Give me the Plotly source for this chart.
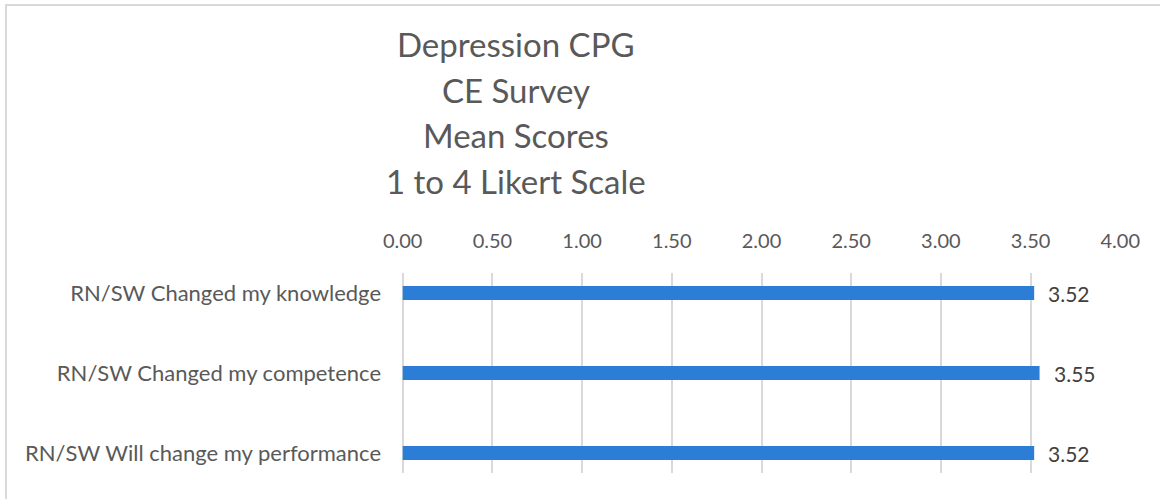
import plotly.graph_objects as go

# chart data
categories = [
    "RN/SW Changed my knowledge",
    "RN/SW Changed my competence",
    "RN/SW Will change my performance",
]
mean_scores = [3.52, 3.55, 3.52]
title_lines = ["Depression CPG", "CE Survey", "Mean Scores", "1 to 4 Likert Scale"]
x_ticks = [0, 0.5, 1.0, 1.5, 2.0, 2.5, 3.0, 3.5, 4.0]

FONT = "Lato, Carlito, Calibri, sans-serif"
GREY = "#595959"
BAR_BLUE = "#2B7DD5"
GRID = "#D9D9D9"

W, H = 1160, 499
L, R, T, B = 402, 39, 273, 26

fig = go.Figure()
fig.add_trace(go.Bar(
    x=mean_scores,
    y=categories,
    orientation="h",
    width=0.175,
    marker=dict(color=BAR_BLUE, line=dict(width=0)),
    hoverinfo="x+y",
    showlegend=False,
))

# value labels to the right of each bar
for cat, val in zip(categories, mean_scores):
    fig.add_annotation(
        x=val, y=cat, xref="x", yref="y",
        text=f"{val:.2f}",
        showarrow=False, xanchor="left", xshift=12,
        font=dict(family=FONT, size=21, color="#404040"),
    )

# title, one annotation per line so the spacing matches
plot_h = H - T - B
plot_w = W - L - R
for i, line in enumerate(title_lines):
    y_px = 44 + i * 45.7
    fig.add_annotation(
        x=(516 - L) / plot_w, y=(H - B - y_px) / plot_h,
        xref="paper", yref="paper",
        text=line, showarrow=False, xanchor="center", yanchor="middle",
        font=dict(family=FONT, size=33, color=GREY),
    )

# outer chart border (left and top edges visible)
fig.add_shape(
    type="rect", xref="paper", yref="paper",
    x0=(6 - L) / plot_w, x1=(W + 10 - L) / plot_w,
    y0=(H - B - (H + 10)) / plot_h, y1=(H - B - 5) / plot_h,
    line=dict(color=GRID, width=2), layer="below",
)

fig.update_layout(
    width=W, height=H,
    margin=dict(l=L, r=R, t=T, b=B),
    paper_bgcolor="white", plot_bgcolor="white",
    font=dict(family=FONT, color=GREY),
    bargap=0.8,
)
# tiny padding on the range so the 0 and 4 gridlines get drawn
fig.update_xaxes(
    side="top", range=[-0.004, 4.004], tickvals=x_ticks, tickformat=".2f",
    showgrid=True, gridcolor=GRID, gridwidth=1.5,
    zeroline=True, zerolinecolor=GRID, zerolinewidth=1.5,
    showline=False, ticks="",
    tickfont=dict(family=FONT, size=20, color=GREY),
    ticklabelstandoff=20, fixedrange=True,
)
fig.update_yaxes(
    categoryorder="array", categoryarray=categories,
    range=[2.25, -0.25], showgrid=False, zeroline=False,
    showline=False, ticks="",
    tickfont=dict(family=FONT, size=22, color=GREY),
    ticklabelstandoff=20, fixedrange=True,
)

# page body has an 8px default margin; drop it so the figure sits at 0,0
fig.write_html(
    "out.html",
    config={"displayModeBar": False},
    post_script="document.body.style.margin='0';",
)
